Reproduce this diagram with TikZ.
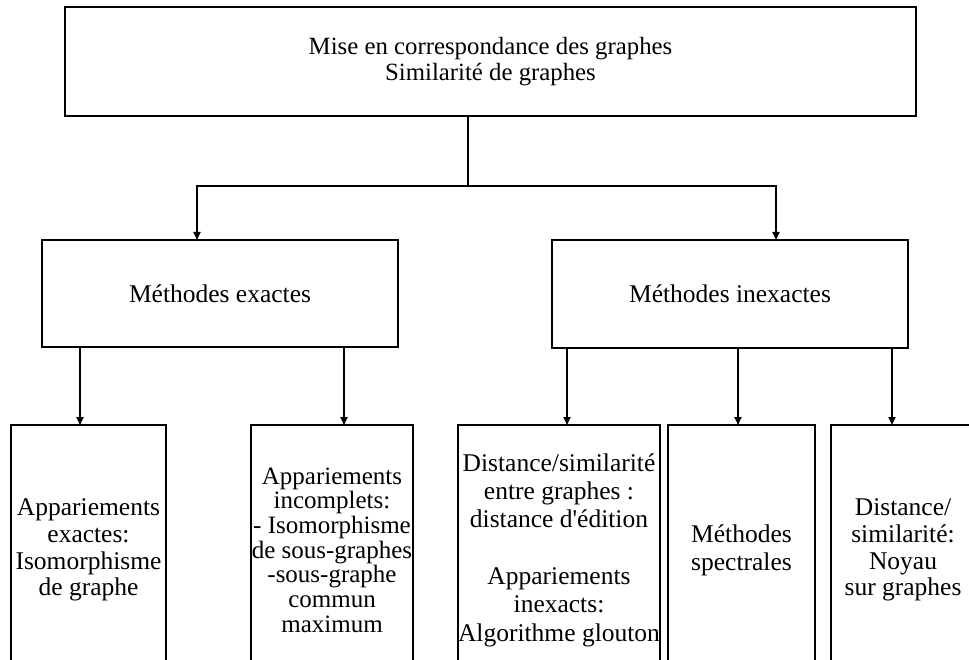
\documentclass[tikz,border=0pt]{standalone}
\usepackage{fontspec}
\setmainfont{Liberation Serif}
\usetikzlibrary{arrows.meta}

\tikzset{
  box/.style={draw=black, line width=2.5pt, rectangle, inner sep=0pt, outer sep=0pt,
              align=center, text=black},
  conn/.style={draw=black, line width=1.8pt},
  arr/.style={conn, -{Triangle[length=8pt,width=7pt]}},
  txt/.style={font=\fontsize{25.5}{#1}\selectfont},
  leaf/.style={box, minimum height=250pt},
}

\begin{document}
\begin{tikzpicture}[x=1pt, y=-1pt]
  \clip (0,0) rectangle (969,660);
  \fill[white] (0,0) rectangle (969,660);

  % root
  \node[box, font=\fontsize{24.8}{25.5}\selectfont, minimum width=851pt, minimum height=109pt]
    (top) at (490.5,61.5)
    {Mise en correspondance des graphes\\Similarité de graphes};

  % second level
  \node[box, txt=26, minimum width=356pt, minimum height=107pt] (exact) at (220,293.5)
    {Méthodes exactes};
  \node[box, txt=26, minimum width=356pt, minimum height=108pt] (inexact) at (730,294)
    {Méthodes inexactes};

  % leaves (running past the lower edge)
  \node[leaf, txt=26.7, minimum width=155pt] (b1) at (88.5,550)
    {Appariements\\exactes:\\Isomorphisme\\de graphe};
  \node[leaf, font=\fontsize{25}{24.7}\selectfont, minimum width=162pt] (b2) at (332,550)
    {Appariements\\incomplets:\\- Isomorphisme\\de sous-graphes\\-sous-graphe\\commun\\maximum};
  \node[leaf, txt=28.3, minimum width=202pt] (b3) at (559,550)
    {Distance/similarité\\entre graphes :\\distance d\textquotesingle édition\\[28.3pt]Appariements\\inexacts:\\Algorithme glouton};
  \node[leaf, txt=28, minimum width=147pt] (b4) at (741.5,550)
    {Méthodes\\spectrales};
  \node[leaf, txt=26.7, minimum width=144pt] (b5) at (903,550)
    {Distance/\\similarité:\\Noyau\\sur graphes};

  % root to second level
  \coordinate (split) at (468,186);
  \draw[conn] ([xshift=-22.5pt]top.south) -- (split);
  \draw[arr] (split) -| ([xshift=-23pt]exact.north);
  \draw[arr] (split) -| ([xshift=46pt]inexact.north);

  % second level to leaves
  \draw[arr] ([xshift=-140pt]exact.south) coordinate (s1) -- (s1 |- b1.north);
  \draw[arr] ([xshift=124pt]exact.south) coordinate (s2) -- (s2 |- b2.north);
  \draw[arr] ([xshift=-163pt]inexact.south) coordinate (s3) -- (s3 |- b3.north);
  \draw[arr] ([xshift=8pt]inexact.south) coordinate (s4) -- (s4 |- b4.north);
  \draw[arr] ([xshift=162pt]inexact.south) coordinate (s5) -- (s5 |- b5.north);
\end{tikzpicture}
\end{document}
